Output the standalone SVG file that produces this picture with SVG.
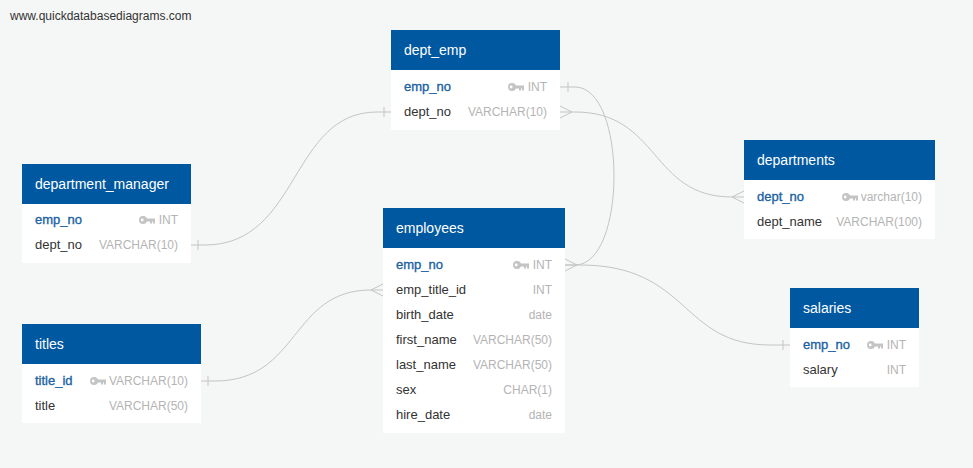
<svg xmlns="http://www.w3.org/2000/svg" width="973" height="468" viewBox="0 0 973 468">
<style>
.bg{fill:#f5f6f6}
.body{fill:#ffffff}
.hdr{fill:#0058a1}
.title{font-family:"Liberation Sans",Arial,sans-serif;font-size:14px;fill:#ffffff}
.pk{font-family:"Liberation Sans",Arial,sans-serif;font-size:13px;fill:#1b62a3;stroke:#1b62a3;stroke-width:0.35}
.col{font-family:"Liberation Sans",Arial,sans-serif;font-size:13px;fill:#333333}
.type{font-family:"Liberation Sans",Arial,sans-serif;font-size:12px;fill:#b4b4b4;text-anchor:end}
.wm{font-family:"Liberation Sans",Arial,sans-serif;font-size:12px;fill:#333333}
.conn path,.conn line{fill:none;stroke:#c4c4c4;stroke-width:1}
</style>
<defs>
<g id="key" fill="#c4c4c4">
<circle cx="4" cy="0" r="4"/>
<rect x="6" y="-1.5" width="10" height="3"/>
<rect x="11" y="0" width="2" height="3.5"/>
<rect x="14" y="0" width="2" height="3.5"/>
<circle cx="3.2" cy="0" r="1.4" fill="#ffffff"/>
</g>
</defs>
<rect class="bg" x="0" y="0" width="973" height="468"/>
<text class="wm" x="10" y="20">www.quickdatabasediagrams.com</text>

<g class="conn" id="connectors">
<!-- dept_emp.emp_no -> employees.emp_no -->
<path d="M560,87 L575,87 C627,87 627,265 575,265 L565,265"/>
<line x1="568" y1="82" x2="568" y2="92"/>
<!-- dept_emp.dept_no -> departments.dept_no -->
<path d="M560,112 L575,112 C660,112 650,197 732,197 L744,197"/>
<path d="M560,106 L572,112 L560,118"/>
<path d="M744,191 L732,197 L744,203"/>
<!-- department_manager.dept_no -> dept_emp.dept_no -->
<path d="M191,245 L205,245 C300,245 290,112 377,112 L391,112"/>
<line x1="198" y1="240" x2="198" y2="250"/>
<line x1="384" y1="107" x2="384" y2="117"/>
<!-- titles.title_id -> employees.emp_title_id -->
<path d="M201,381 L215,381 C300,381 290,290 371,290 L383,290"/>
<line x1="208" y1="376" x2="208" y2="386"/>
<path d="M383,284 L371,290 L383,296"/>
<!-- employees.emp_no -> salaries.emp_no -->
<path d="M565,265 L580,265 C690,265 680,345 770,345 L790,345"/>
<line x1="783" y1="340" x2="783" y2="350"/>
<path d="M565,259 L577,265 L565,271"/>
</g>

<g id="dept_emp">
<rect class="body" x="391" y="30" width="169" height="100"/>
<rect class="hdr" x="391" y="30" width="169" height="40"/>
<text class="title" x="404" y="55">dept_emp</text>
<text class="pk" x="404" y="91">emp_no</text>
<use href="#key" x="508" y="87"/>
<text class="type" x="547" y="91">INT</text>
<text class="col" x="404" y="116">dept_no</text>
<text class="type" x="547" y="116">VARCHAR(10)</text>
</g>

<g id="department_manager">
<rect class="body" x="22" y="164" width="169" height="99"/>
<rect class="hdr" x="22" y="164" width="169" height="40"/>
<text class="title" x="35" y="189">department_manager</text>
<text class="pk" x="35" y="224">emp_no</text>
<use href="#key" x="139" y="220"/>
<text class="type" x="178" y="224">INT</text>
<text class="col" x="35" y="249">dept_no</text>
<text class="type" x="178" y="249">VARCHAR(10)</text>
</g>

<g id="departments">
<rect class="body" x="744" y="140" width="191" height="99"/>
<rect class="hdr" x="744" y="140" width="191" height="40"/>
<text class="title" x="757" y="165">departments</text>
<text class="pk" x="757" y="201">dept_no</text>
<use href="#key" x="842" y="197"/>
<text class="type" x="922" y="201">varchar(10)</text>
<text class="col" x="757" y="226">dept_name</text>
<text class="type" x="922" y="226">VARCHAR(100)</text>
</g>

<g id="employees">
<rect class="body" x="383" y="208" width="182" height="225"/>
<rect class="hdr" x="383" y="208" width="182" height="40"/>
<text class="title" x="396" y="233">employees</text>
<text class="pk" x="396" y="269">emp_no</text>
<use href="#key" x="513" y="265"/>
<text class="type" x="552" y="269">INT</text>
<text class="col" x="396" y="294">emp_title_id</text>
<text class="type" x="552" y="294">INT</text>
<text class="col" x="396" y="319">birth_date</text>
<text class="type" x="552" y="319">date</text>
<text class="col" x="396" y="344">first_name</text>
<text class="type" x="552" y="344">VARCHAR(50)</text>
<text class="col" x="396" y="369">last_name</text>
<text class="type" x="552" y="369">VARCHAR(50)</text>
<text class="col" x="396" y="394">sex</text>
<text class="type" x="552" y="394">CHAR(1)</text>
<text class="col" x="396" y="419">hire_date</text>
<text class="type" x="552" y="419">date</text>
</g>

<g id="salaries">
<rect class="body" x="790" y="288" width="129" height="99"/>
<rect class="hdr" x="790" y="288" width="129" height="40"/>
<text class="title" x="803" y="313">salaries</text>
<text class="pk" x="803" y="349">emp_no</text>
<use href="#key" x="867" y="345"/>
<text class="type" x="906" y="349">INT</text>
<text class="col" x="803" y="374">salary</text>
<text class="type" x="906" y="374">INT</text>
</g>

<g id="titles">
<rect class="body" x="22" y="324" width="179" height="99"/>
<rect class="hdr" x="22" y="324" width="179" height="40"/>
<text class="title" x="35" y="349">titles</text>
<text class="pk" x="35" y="385">title_id</text>
<use href="#key" x="90" y="381"/>
<text class="type" x="188" y="385">VARCHAR(10)</text>
<text class="col" x="35" y="410">title</text>
<text class="type" x="188" y="410">VARCHAR(50)</text>
</g>
</svg>
